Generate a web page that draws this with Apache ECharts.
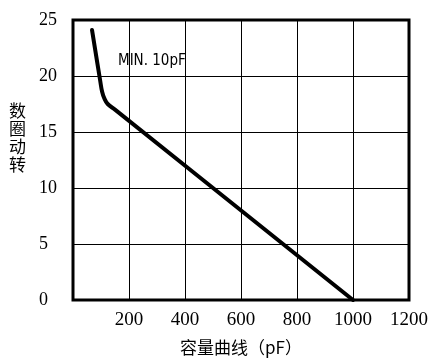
<!DOCTYPE html>
<html>
<head>
<meta charset="utf-8">
<script src="https://cdn.jsdelivr.net/npm/echarts@6/dist/echarts.min.js"></script>
<style>html,body{margin:0;padding:0;background:#fff}#c{width:440px;height:363px}</style>
</head>
<body>
<div id="c"></div>
<script>
// Data
var capacitance = [68, 97, 104, 112, 124, 150, 1000];   // pF
var turns       = [24.1, 19.6, 18.6, 18.0, 17.5, 17.0, 0]; // turns
var xTicks = [0, 200, 400, 600, 800, 1000, 1200];
var yTicks = [0, 5, 10, 15, 20, 25];
var xName = '容量曲线（pF）';
var yName = '转动圈数';
var note = 'MIN. 10pF';

var points = capacitance.map(function (c, i) { return [c, turns[i]]; });
var tickFont = "'Liberation Serif', 'DejaVu Serif', serif";
var cjk = "'Noto Sans CJK SC', sans-serif";

var chart = echarts.init(document.getElementById('c'), null, {renderer: 'canvas'});
chart.setOption({
  animation: false,
  backgroundColor: '#fff',
  grid: {left: 73, right: 31, top: 20, bottom: 63, show: true, borderColor: '#000', borderWidth: 3, backgroundColor: 'transparent'},
  xAxis: {
    type: 'value', min: xTicks[0], max: xTicks[xTicks.length - 1], interval: 200,
    name: xName, nameLocation: 'middle', nameGap: 39,
    nameTextStyle: {fontFamily: cjk, fontSize: 17, color: '#000'},
    axisLine: {show: false}, axisTick: {show: false},
    splitLine: {show: true, lineStyle: {color: '#000', width: 1}},
    axisLabel: {fontFamily: tickFont, fontSize: 19, color: '#000', margin: 11,
      formatter: function (v) { return v === 0 ? '' : String(v); }}
  },
  yAxis: {
    type: 'value', min: yTicks[0], max: yTicks[yTicks.length - 1], interval: 5,
    axisLine: {show: false}, axisTick: {show: false},
    splitLine: {show: true, lineStyle: {color: '#000', width: 1}},
    axisLabel: {fontFamily: tickFont, fontSize: 18, color: '#000', margin: 34, align: 'left'}
  },
  graphic: [
    {type: 'text', left: 9, top: 102, style: {text: yName.split('').reverse().join('\n'), font: '17px ' + cjk, lineHeight: 18, fill: '#000'}},
    {type: 'text', left: 118, top: 54, style: {text: note, font: "15px 'DejaVu Sans Condensed', 'DejaVu Sans', sans-serif", fill: '#000'}}
  ],
  series: [{
    type: 'line', data: points, smooth: 0.4, showSymbol: false, symbol: 'none',
    lineStyle: {color: '#000', width: 4, cap: 'round', join: 'round'}
  }]
});
</script>
</body>
</html>
